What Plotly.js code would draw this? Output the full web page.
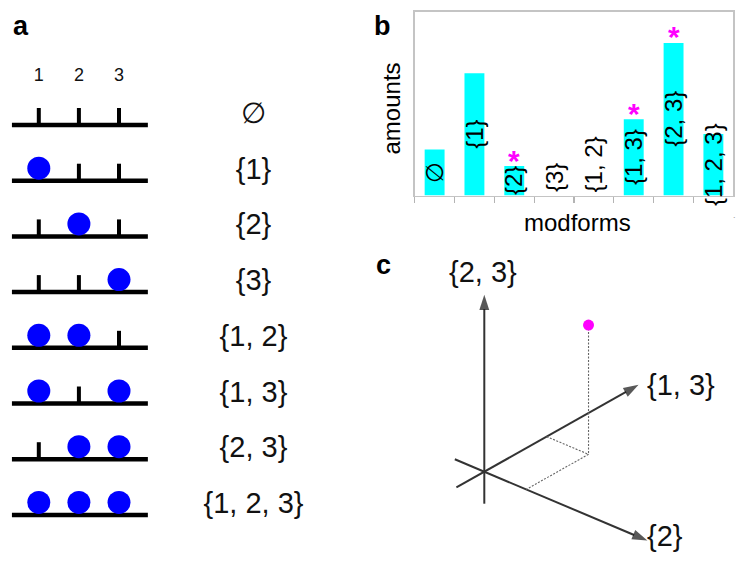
<!DOCTYPE html>
<html><head><meta charset="utf-8">
<script src="https://cdn.plot.ly/plotly-3.0.1.min.js"></script>
<style>html,body{margin:0;padding:0;background:#fff;} #chart{width:748px;height:561px;}</style>
</head><body><div id="chart"></div>
<script>
// ---------------- data ----------------
const modforms = ['∅', '{1}', '{2}', '{3}', '{1, 2}', '{1, 3}', '{2, 3}', '{1, 2, 3}'];
const modSites = [[], [1], [2], [3], [1, 2], [1, 3], [2, 3], [1, 2, 3]];
const sites = [1, 2, 3];
const amounts = [2.5, 6.65, 1.6, 0, 0, 4.15, 8.3, 3.35];
const significant = ['{2}', '{1, 3}', '{2, 3}'];
const spaceAxes = ['{2}', '{1, 3}', '{2, 3}'];
const samplePoint = [45.5, 71.5, 129.3];
const axisSpan = [-32, 177];

// ---------------- styling constants ----------------
const FONT = 'Liberation Sans, Arial, sans-serif';
const W = 748, H = 561;
const px = v => v / W, py = v => 1 - v / H;

const traces = [];
const annotations = [];

// ---------------- panel b : bar chart ----------------
traces.push({
  type: 'bar', x: modforms, y: amounts, width: 0.5,
  marker: {color: '#00ffff', line: {width: 0}},
  xaxis: 'x', yaxis: 'y', hoverinfo: 'skip'
});
modforms.forEach((m, i) => {
  const v = amounts[i];
  annotations.push({
    xref: 'x', yref: 'y', x: m, y: v > 0 ? v / 2 : 0,
    xanchor: 'center', yanchor: v > 0 ? 'middle' : 'bottom', yshift: v > 0 ? 0 : 1,
    text: m, textangle: -90, showarrow: false,
    font: {family: FONT, size: 24, color: '#000'}
  });
});
significant.forEach(m => {
  const v = amounts[modforms.indexOf(m)];
  annotations.push({
    xref: 'x', yref: 'y', x: m, y: v, xanchor: 'center', yanchor: 'middle', yshift: 6,
    text: '<b>*</b>', showarrow: false,
    font: {family: FONT, size: 30, color: '#ff00ff'}
  });
});
annotations.push({xref: 'paper', yref: 'paper', x: px(390.5), y: py(109), xanchor: 'center', yanchor: 'middle',
  text: 'amounts', textangle: -90, showarrow: false, font: {family: FONT, size: 24, color: '#000'}});
annotations.push({xref: 'paper', yref: 'paper', x: px(577), y: py(222), xanchor: 'center', yanchor: 'middle',
  text: 'modforms', showarrow: false, font: {family: FONT, size: 24, color: '#000'}});
annotations.push({xref: 'paper', yref: 'paper', x: px(734.5), y: py(215), xanchor: 'center', yanchor: 'middle',
  text: '.', showarrow: false, font: {family: FONT, size: 9, color: '#999'}});

// ---------------- panel a : modform diagrams ----------------
const baseOff = 0.2244, tickH = 0.305;
const lineX0 = sites[0] - 0.67, lineX1 = sites[sites.length - 1] + 0.72;
const labelCol = 6.354;
const bx = [], by = [], tx = [], ty = [], dx = [], dy = [];
modSites.forEach((set, i) => {
  bx.push(lineX0, lineX1, null); by.push(i + baseOff, i + baseOff, null);
  sites.forEach(s => {
    if (set.indexOf(s) >= 0) { dx.push(s); dy.push(i); }
    else { tx.push(s, s, null); ty.push(i + baseOff, i + baseOff - tickH, null); }
  });
});
traces.push({type: 'scatter', mode: 'lines', x: bx, y: by, line: {color: '#000', width: 4.5},
  xaxis: 'x2', yaxis: 'y2', hoverinfo: 'skip'});
traces.push({type: 'scatter', mode: 'lines', x: tx, y: ty, line: {color: '#000', width: 4},
  xaxis: 'x2', yaxis: 'y2', hoverinfo: 'skip'});
traces.push({type: 'scatter', mode: 'markers', x: dx, y: dy,
  marker: {color: '#0000ff', size: 23, line: {width: 0}},
  xaxis: 'x2', yaxis: 'y2', hoverinfo: 'skip'});
traces.push({type: 'scatter', mode: 'text', x: modforms.map(() => labelCol), y: modforms.map((m, i) => i + 0.06),
  text: modforms, textposition: 'middle center',
  textfont: {family: FONT, size: 29, color: '#111'}, xaxis: 'x2', yaxis: 'y2', hoverinfo: 'skip'});
traces.push({type: 'scatter', mode: 'text', x: sites, y: sites.map(() => -0.655),
  text: sites.map(String), textposition: 'middle center',
  textfont: {family: FONT, size: 18, color: '#111'}, xaxis: 'x2', yaxis: 'y2', hoverinfo: 'skip'});

// ---------------- panel c : 3D sketch ----------------
const E = [[0.9212, -0.3891], [0.8715, 0.4906], [0, 1]];
const proj = v => [v[0]*E[0][0] + v[1]*E[1][0] + v[2]*E[2][0], v[0]*E[0][1] + v[1]*E[1][1] + v[2]*E[2][1]];
const unit = (k, t) => [0, 1, 2].map(j => j === k ? t : 0);
spaceAxes.forEach((name, k) => {
  const a = proj(unit(k, axisSpan[0])), b = proj(unit(k, axisSpan[1]));
  traces.push({type: 'scatter', mode: 'lines+markers', x: [a[0], b[0]], y: [a[1], b[1]],
    line: {color: '#333', width: 2},
    marker: {symbol: 'arrow', size: [0, 16], angleref: 'previous', color: '#111', line: {width: 0}},
    xaxis: 'x3', yaxis: 'y3', hoverinfo: 'skip', cliponaxis: false});
});
const P = proj(samplePoint), F = proj([samplePoint[0], samplePoint[1], 0]);
const A = proj([0, samplePoint[1], 0]), B = proj([samplePoint[0], 0, 0]);
traces.push({type: 'scatter', mode: 'lines', x: [P[0], F[0], null, A[0], F[0], B[0]], y: [P[1], F[1], null, A[1], F[1], B[1]],
  line: {color: '#666', width: 1.1, dash: '2px,1.5px'}, xaxis: 'x3', yaxis: 'y3', hoverinfo: 'skip'});
traces.push({type: 'scatter', mode: 'markers', x: [P[0]], y: [P[1]],
  marker: {color: '#ff00ff', size: 11, line: {width: 0}}, xaxis: 'x3', yaxis: 'y3', hoverinfo: 'skip'});
const tipLab = [
  {xanchor: 'left', yanchor: 'middle', xshift: -2, yshift: 5},
  {xanchor: 'left', yanchor: 'middle', xshift: 6, yshift: 0},
  {xanchor: 'center', yanchor: 'middle', xshift: -1, yshift: 23}
];
spaceAxes.forEach((name, k) => {
  const t = proj(unit(k, axisSpan[1]));
  annotations.push(Object.assign({xref: 'x3', yref: 'y3', x: t[0], y: t[1], text: name, showarrow: false,
    font: {family: FONT, size: 29, color: '#111'}}, tipLab[k]));
});

// ---------------- panel letters ----------------
[['a', 11, 26], ['b', 372, 26], ['c', 374, 265]].forEach(l => {
  annotations.push({xref: 'paper', yref: 'paper', x: px(l[1]), y: py(l[2]), xanchor: 'left', yanchor: 'middle',
    text: '<b>' + l[0] + '</b>', showarrow: false, font: {family: FONT, size: 27, color: '#000'}});
});

const hidden = {visible: false, showgrid: false, zeroline: false, fixedrange: true};
const layout = {
  width: W, height: H, margin: {l: 0, r: 0, t: 0, b: 0},
  paper_bgcolor: '#fff', plot_bgcolor: 'rgba(0,0,0,0)', showlegend: false,
  xaxis: {domain: [px(414.7), px(733.3)], type: 'category', range: [-0.5, 7.5],
    showline: true, mirror: true, linecolor: '#c4c4c4', linewidth: 1.3,
    ticks: 'outside', tickson: 'boundaries', ticklen: 6, tickcolor: '#b4b4b4', tickwidth: 1.3,
    showticklabels: false, showgrid: false, zeroline: false, anchor: 'y'},
  yaxis: {domain: [py(195.5), py(11.7)], range: [0, 10], showline: true, mirror: true,
    linecolor: '#c4c4c4', linewidth: 1.3, ticks: '', showticklabels: false,
    showgrid: false, zeroline: false, anchor: 'x'},
  xaxis2: Object.assign({domain: [0, px(330)], range: [0.0324, 8.262], anchor: 'y2'}, hidden),
  yaxis2: Object.assign({domain: [0, 1], range: [8.052, -2.0197], anchor: 'x2'}, hidden),
  xaxis3: Object.assign({domain: [px(430), px(740)], range: [-54.3, 255.7], anchor: 'y3'}, hidden),
  yaxis3: Object.assign({domain: [py(558), py(255)], range: [-86.3, 216.7], anchor: 'x3'}, hidden),
  annotations: annotations
};
Plotly.newPlot('chart', traces, layout, {staticPlot: true, displayModeBar: false});
</script></body></html>
